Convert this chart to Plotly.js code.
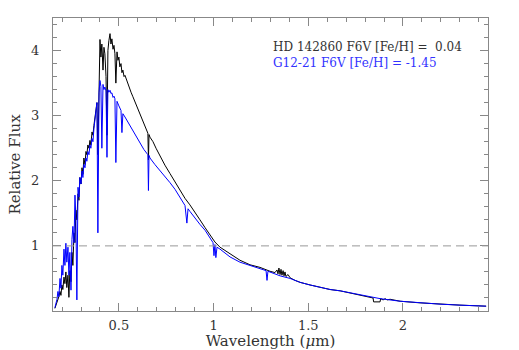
<!DOCTYPE html>
<html>
<head>
<meta charset="utf-8">
<script src="https://cdn.plot.ly/plotly-3.0.1.min.js"></script>
<style>html,body{margin:0;padding:0;background:#fff;}#chart{width:519px;height:350px;}</style>
</head>
<body>
<div id="chart"></div>
<script>
// HD 142860 (black) spectrum: wavelength (micron) and relative flux
var blackWave = [0.162,0.173,0.183,0.189,0.194,0.199,0.204,0.210,0.215,0.220,0.225,0.231,0.236,0.241,0.247,0.252,0.257,0.263,0.268,0.273,0.278,0.284,0.289,0.294,0.300,0.305,0.310,0.315,0.321,0.326,0.331,0.336,0.342,0.347,0.352,0.358,0.363,0.368,0.373,0.379,0.384,0.389,0.395,0.400,0.405,0.410,0.416,0.421,0.426,0.432,0.437,0.442,0.447,0.453,0.458,0.463,0.469,0.474,0.479,0.484,0.490,0.495,0.500,0.505,0.511,0.516,0.521,0.527,0.532,0.542,0.553,0.564,0.574,0.585,0.595,0.606,0.616,0.627,0.638,0.648,0.653,0.656,0.659,0.664,0.680,0.696,0.717,0.743,0.770,0.796,0.822,0.849,0.875,0.902,0.928,0.955,0.981,1.007,1.034,1.060,1.087,1.139,1.192,1.245,1.298,1.324,1.335,1.340,1.345,1.351,1.356,1.361,1.367,1.372,1.377,1.382,1.393,1.404,1.430,1.457,1.509,1.562,1.615,1.668,1.721,1.773,1.826,1.842,1.845,1.879,1.882,1.895,1.906,1.916,1.932,1.958,1.985,2.090,2.196,2.301,2.439];
var blackFlux = [0.04,0.12,0.22,0.30,0.24,0.40,0.33,0.52,0.42,0.60,0.36,0.55,0.21,0.62,0.45,0.90,0.70,1.20,1.05,1.55,1.40,1.80,1.70,2.05,1.95,2.20,2.10,2.35,2.25,2.45,2.40,2.55,2.50,2.62,2.55,2.75,2.70,2.85,2.95,3.05,3.20,2.40,3.60,4.17,3.90,4.10,3.70,4.05,3.95,3.60,2.70,4.00,4.15,4.26,4.10,4.18,4.02,4.08,3.95,3.50,3.98,3.85,3.90,3.75,3.80,3.66,3.70,3.60,3.62,3.53,3.44,3.36,3.29,3.21,3.13,3.05,2.98,2.90,2.83,2.76,2.73,2.32,2.71,2.67,2.60,2.50,2.38,2.24,2.11,1.98,1.85,1.73,1.63,1.52,1.40,1.28,1.16,1.06,0.98,0.93,0.88,0.78,0.71,0.67,0.61,0.59,0.63,0.57,0.66,0.56,0.64,0.55,0.62,0.54,0.60,0.53,0.56,0.51,0.47,0.44,0.40,0.36,0.33,0.31,0.28,0.25,0.21,0.20,0.14,0.14,0.19,0.17,0.19,0.17,0.18,0.16,0.15,0.125,0.105,0.09,0.074];

// G12-21 (blue) spectrum
var blueWave = [0.162,0.173,0.178,0.183,0.189,0.194,0.199,0.204,0.210,0.215,0.220,0.225,0.231,0.236,0.241,0.247,0.252,0.257,0.263,0.268,0.273,0.278,0.284,0.289,0.294,0.300,0.305,0.310,0.315,0.321,0.326,0.331,0.336,0.342,0.347,0.352,0.358,0.363,0.368,0.373,0.379,0.384,0.389,0.395,0.400,0.405,0.410,0.416,0.421,0.426,0.432,0.437,0.442,0.447,0.453,0.458,0.463,0.469,0.474,0.479,0.484,0.490,0.500,0.511,0.516,0.521,0.532,0.542,0.558,0.574,0.590,0.611,0.632,0.653,0.656,0.659,0.664,0.690,0.717,0.743,0.770,0.796,0.822,0.849,0.859,0.865,0.875,0.902,0.928,0.955,0.981,0.997,1.002,1.007,1.012,1.018,1.034,1.060,1.087,1.139,1.192,1.245,1.277,1.282,1.287,1.324,1.351,1.404,1.457,1.509,1.562,1.615,1.668,1.721,1.773,1.879,1.985,2.090,2.196,2.301,2.439];
var blueFlux = [0.05,0.18,0.30,0.22,0.50,0.35,0.70,0.55,0.95,0.70,1.04,0.75,0.98,0.55,0.90,0.32,1.10,1.30,1.05,1.78,1.40,0.17,1.90,1.75,2.05,1.95,2.15,2.05,2.25,2.20,2.35,2.30,2.45,2.40,2.55,2.50,2.65,2.60,2.80,2.90,3.05,3.20,1.20,3.35,3.54,3.45,2.50,3.48,3.40,3.44,3.38,2.36,3.40,3.36,3.39,3.34,3.35,3.28,3.30,3.26,2.28,3.22,3.15,3.08,2.74,3.03,2.98,2.93,2.84,2.78,2.70,2.58,2.48,2.40,1.85,2.39,2.35,2.25,2.16,2.06,1.97,1.87,1.74,1.62,1.35,1.57,1.53,1.42,1.33,1.24,1.12,1.05,0.85,1.02,0.82,0.98,0.95,0.89,0.83,0.75,0.70,0.66,0.62,0.47,0.61,0.57,0.54,0.50,0.44,0.40,0.36,0.33,0.31,0.28,0.25,0.19,0.15,0.125,0.105,0.09,0.074];

var seriesLabels = ["HD 142860 F6V [Fe/H] =\u00a0\u00a00.04", "G12-21 F6V [Fe/H] = -1.45"];
var refLevel = 1;
var xTickVals = [0.5, 1, 1.5, 2];
var xTickText = ["0.5", "1", "1.5", "2"];
var yTickVals = [1, 2, 3, 4];
var yTickText = ["1", "2", "3", "4"];

var FONT = "DejaVu Serif, serif";
var traces = [
  {x: blackWave, y: blackFlux, type: "scatter", mode: "lines", line: {color: "#000000", width: 1}, hoverinfo: "skip"},
  {x: blueWave, y: blueFlux, type: "scatter", mode: "lines", line: {color: "#0000ff", width: 1}, hoverinfo: "skip"}
];
var axisCommon = {
  showgrid: false, zeroline: false, showline: true, linecolor: "#888", linewidth: 1,
  mirror: "allticks", ticks: "inside", ticklen: 8, tickcolor: "#888", tickwidth: 1,
  tickfont: {family: FONT, size: 13, color: "#333"}
};
var layout = {
  width: 519, height: 350,
  margin: {l: 53, r: 31, t: 18, b: 39},
  paper_bgcolor: "#fff", plot_bgcolor: "#fff",
  showlegend: false,
  xaxis: Object.assign({}, axisCommon, {
    range: [0.152, 2.449], tickmode: "array", tickvals: xTickVals, ticktext: xTickText,
    minor: {dtick: 0.1, tick0: 0, ticks: "inside", ticklen: 4, tickcolor: "#888"},
    ticklabelstandoff: 2,
    title: {text: "Wavelength (<i>\u03bc</i>m)", font: {family: FONT, size: 15, color: "#333"}, standoff: 9}
  }),
  yaxis: Object.assign({}, axisCommon, {
    range: [0, 4.5], tickmode: "array", tickvals: yTickVals, ticktext: yTickText,
    minor: {dtick: 0.2, tick0: 0, ticks: "inside", ticklen: 4, tickcolor: "#888"},
    ticklabelstandoff: 10,
    title: {text: "Relative Flux", font: {family: FONT, size: 15, color: "#333"}, standoff: 6}
  }),
  shapes: [
    {type: "line", xref: "paper", x0: 0, x1: 1, yref: "y", y0: refLevel, y1: refLevel,
     line: {color: "#999", width: 1, dash: "8px,5px"}}
  ],
  annotations: [
    {xref: "paper", yref: "paper", x: 0.501, y: 0.901, xanchor: "left", yanchor: "middle", showarrow: false,
     text: seriesLabels[0], font: {family: FONT, size: 12, color: "#333"}},
    {xref: "paper", yref: "paper", x: 0.501, y: 0.846, xanchor: "left", yanchor: "middle", showarrow: false,
     text: seriesLabels[1], font: {family: FONT, size: 12, color: "#3333ff"}}
  ]
};
Plotly.newPlot("chart", traces, layout, {displayModeBar: false, staticPlot: true});
</script>
</body>
</html>
